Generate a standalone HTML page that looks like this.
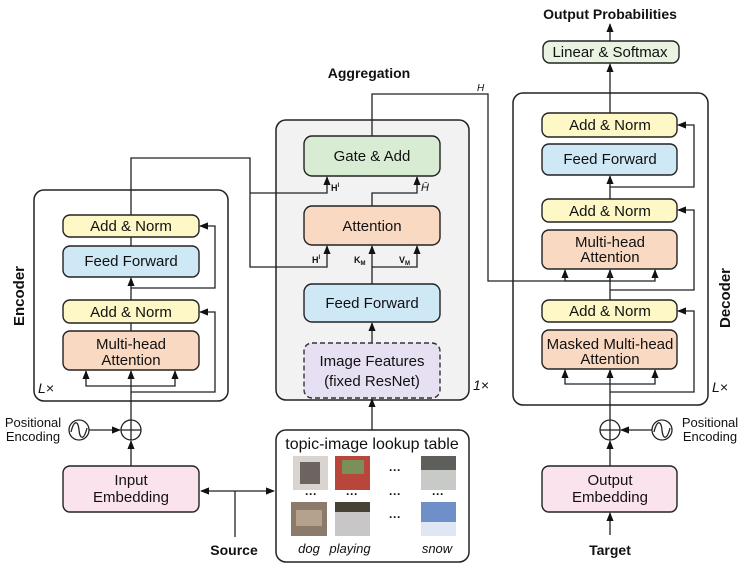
<!DOCTYPE html>
<html><head><meta charset="utf-8"><style>
body{margin:0;background:#fff}
svg{display:block;font-family:"Liberation Sans",Arial,sans-serif}
</style></head><body>
<svg width="747" height="567" viewBox="0 0 747 567" xmlns="http://www.w3.org/2000/svg">
<defs>
<marker id="a" viewBox="0 0 10 10" refX="9" refY="5" markerWidth="7" markerHeight="7" orient="auto-start-reverse"><path d="M0,1 L10,5 L0,9 z" fill="#111"/></marker>
</defs>
<g fill="none" stroke="#222" stroke-width="1.5">
<rect x="34" y="190" width="194" height="211" rx="10" fill="#fff"/>
<rect x="276" y="120" width="193" height="280" rx="10" fill="#f2f2f2"/>
<rect x="513" y="93" width="195" height="312" rx="10" fill="#fff"/>
<rect x="276" y="430" width="193" height="132" rx="10" fill="#fff"/>
</g>
<g fill="none" stroke="#222" stroke-width="1.3">
<line x1="131" y1="466" x2="131" y2="441" marker-end="url(#a)"/>
<circle cx="131" cy="430" r="10"/><line x1="121" y1="430" x2="141" y2="430"/><line x1="131" y1="420" x2="131" y2="440"/>
<circle cx="79" cy="430" r="10"/><path d="M71,432 C74,420 78,420 79,430 C80,440 84,440 87,428"/>
<line x1="89" y1="430" x2="120" y2="430" marker-end="url(#a)"/>
<line x1="131" y1="420" x2="131" y2="371" marker-end="url(#a)"/>
<polyline points="86,371 86,386 175,386 175,371" marker-start="url(#a)" marker-end="url(#a)"/>
<polyline points="131,392 215,392 215,312 200,312" marker-end="url(#a)"/>
<line x1="131" y1="331" x2="131" y2="323"/>
<line x1="131" y1="300" x2="131" y2="278" marker-end="url(#a)"/>
<polyline points="131,288 215,288 215,226 200,226" marker-end="url(#a)"/>
<line x1="131" y1="246" x2="131" y2="237"/>
<polyline points="131,215 131,158 250,158 250,267 327,267 327,246" marker-end="url(#a)"/>
<polyline points="250,193 327,193 327,177" marker-end="url(#a)"/>
<line x1="201" y1="491" x2="274" y2="491" marker-start="url(#a)" marker-end="url(#a)"/>
<line x1="235" y1="491" x2="235" y2="537"/>
<line x1="372" y1="430" x2="372" y2="399" marker-end="url(#a)"/>
<line x1="372" y1="343" x2="372" y2="323" marker-end="url(#a)"/>
<polyline points="372,284 372,267 417,267 417,246" marker-end="url(#a)"/>
<line x1="372" y1="267" x2="372" y2="246" marker-end="url(#a)"/>
<polyline points="372,206 372,193 417,193 417,177" marker-end="url(#a)"/>
<polyline points="372,136 372,94 488,94 488,281 610,281 610,270" marker-end="url(#a)"/>
<line x1="610" y1="535" x2="610" y2="513" marker-end="url(#a)"/>
<line x1="610" y1="466" x2="610" y2="441" marker-end="url(#a)"/>
<circle cx="610" cy="430" r="10"/><line x1="600" y1="430" x2="620" y2="430"/><line x1="610" y1="420" x2="610" y2="440"/>
<circle cx="662" cy="430" r="10"/><path d="M654,432 C657,420 661,420 662,430 C663,440 667,440 670,428"/>
<line x1="652" y1="430" x2="621" y2="430" marker-end="url(#a)"/>
<line x1="610" y1="420" x2="610" y2="370" marker-end="url(#a)"/>
<polyline points="565,370 565,384 655,384 655,370" marker-start="url(#a)" marker-end="url(#a)"/>
<polyline points="610,392 694,392 694,311 678,311" marker-end="url(#a)"/>
<line x1="610" y1="300" x2="610" y2="270"/>
<polyline points="565,270 565,281 655,281 655,270" marker-start="url(#a)" marker-end="url(#a)"/>
<polyline points="610,290 694,290 694,210 678,210" marker-end="url(#a)"/>
<line x1="610" y1="199" x2="610" y2="176" marker-end="url(#a)"/>
<polyline points="610,187 694,187 694,125 678,125" marker-end="url(#a)"/>
<line x1="610" y1="113" x2="610" y2="64" marker-end="url(#a)"/>
<line x1="610" y1="41" x2="610" y2="24" marker-end="url(#a)"/>
</g>
<g stroke="#222" stroke-width="1.4">
<rect x="63" y="215" width="136" height="22" rx="7" fill="#fdf8c6"/>
<rect x="63" y="246" width="136" height="31" rx="7" fill="#cfe8f6"/>
<rect x="63" y="300" width="136" height="23" rx="7" fill="#fdf8c6"/>
<rect x="63" y="331" width="136" height="39" rx="7" fill="#fad9c2"/>
<rect x="63" y="466" width="136" height="46" rx="7" fill="#fbe3ee"/>
<rect x="304" y="136" width="136" height="40" rx="8" fill="#d8ecd4"/>
<rect x="304" y="206" width="136" height="39" rx="8" fill="#fad9c2"/>
<rect x="304" y="284" width="136" height="38" rx="8" fill="#cfe8f6"/>
<rect x="304" y="343" width="136" height="55" rx="8" fill="#e6e0f2" stroke="#333" stroke-dasharray="5,3"/>
<rect x="543" y="41" width="136" height="22" rx="7" fill="#e8f3e2"/>
<rect x="542" y="113" width="135" height="24" rx="7" fill="#fdf8c6"/>
<rect x="542" y="144" width="135" height="31" rx="7" fill="#cfe8f6"/>
<rect x="542" y="199" width="135" height="23" rx="7" fill="#fdf8c6"/>
<rect x="542" y="230" width="135" height="39" rx="7" fill="#fad9c2"/>
<rect x="542" y="300" width="135" height="22" rx="7" fill="#fdf8c6"/>
<rect x="542" y="330" width="135" height="39" rx="7" fill="#fad9c2"/>
<rect x="542" y="466" width="135" height="46" rx="7" fill="#fbe3ee"/>
</g>
<g>
<rect x="293" y="456" width="35" height="34" fill="#d9d4cf"/><rect x="300" y="462" width="20" height="22" fill="#6b6460"/>
<rect x="335" y="456" width="35" height="34" fill="#b8463a"/><rect x="342" y="460" width="22" height="14" fill="#7b8f5a"/>
<rect x="421" y="456" width="35" height="34" fill="#c8cac8"/><rect x="421" y="456" width="35" height="14" fill="#5e5e5a"/>
<rect x="291" y="502" width="36" height="34" fill="#8c7b6a"/><rect x="296" y="510" width="26" height="16" fill="#b6a28c"/>
<rect x="335" y="502" width="35" height="34" fill="#c9c6c8"/><rect x="335" y="502" width="35" height="10" fill="#474236"/>
<rect x="421" y="502" width="35" height="34" fill="#6f8fc8"/><rect x="421" y="522" width="35" height="14" fill="#dfe6f4"/>
</g>
<g font-size="15" fill="#111" text-anchor="middle">
<text x="131" y="231">Add &amp; Norm</text>
<text x="131" y="266">Feed Forward</text>
<text x="131" y="317">Add &amp; Norm</text>
<text x="131" y="349">Multi-head</text><text x="131" y="365">Attention</text>
<text x="131" y="485">Input</text><text x="131" y="502">Embedding</text>
<text x="372" y="161">Gate &amp; Add</text>
<text x="372" y="231">Attention</text>
<text x="372" y="308">Feed Forward</text>
<text x="372" y="366">Image Features</text><text x="372" y="386">(fixed ResNet)</text>
<text x="610" y="57">Linear &amp; Softmax</text>
<text x="610" y="130">Add &amp; Norm</text>
<text x="610" y="164">Feed Forward</text>
<text x="610" y="216">Add &amp; Norm</text>
<text x="610" y="247">Multi-head</text><text x="610" y="262">Attention</text>
<text x="610" y="316">Add &amp; Norm</text>
<text x="610" y="349">Masked Multi-head</text><text x="610" y="364">Attention</text>
<text x="610" y="485">Output</text><text x="610" y="502">Embedding</text>
<text x="372" y="449" font-size="16">topic-image lookup table</text>
</g>
<g font-size="13" fill="#111" text-anchor="middle">
<text x="33" y="427">Positional</text><text x="33" y="441">Encoding</text>
<text x="710" y="427">Positional</text><text x="710" y="441">Encoding</text>
<g font-style="italic"><text x="309" y="553">dog</text><text x="350" y="553">playing</text><text x="437" y="553">snow</text></g>
<g font-size="12" font-weight="bold"><text x="311" y="498">···</text><text x="352" y="498">···</text><text x="395" y="498">···</text><text x="438" y="498">···</text><text x="395" y="474">···</text><text x="395" y="521">···</text></g>
</g>
<g font-weight="bold" font-size="14" fill="#111" text-anchor="middle">
<text x="610" y="19">Output Probabilities</text>
<text x="369" y="78">Aggregation</text>
<text x="234" y="555">Source</text>
<text x="610" y="555">Target</text>
<text transform="translate(24 296) rotate(-90)" font-size="15">Encoder</text>
<text transform="translate(730 298) rotate(-90)" font-size="15">Decoder</text>
</g>
<g font-size="14" font-style="italic" fill="#111">
<text x="38" y="393">L×</text><text x="712" y="392">L×</text><text x="473" y="390">1×</text>
</g>
<g font-size="9" font-weight="bold" fill="#111">
<text x="331" y="191">H<tspan font-size="6" dy="-4">l</tspan></text>
<text x="312" y="263">H<tspan font-size="6" dy="-4">l</tspan></text>
<text x="354" y="263">K<tspan font-size="6" dy="2">M</tspan></text>
<text x="399" y="263">V<tspan font-size="6" dy="2">M</tspan></text>
<text x="421" y="191" font-weight="normal" font-style="italic" font-size="11">H̄</text>
<text x="477" y="91" font-weight="normal" font-style="italic" font-size="10">H</text>
</g>
</svg>
</body></html>
